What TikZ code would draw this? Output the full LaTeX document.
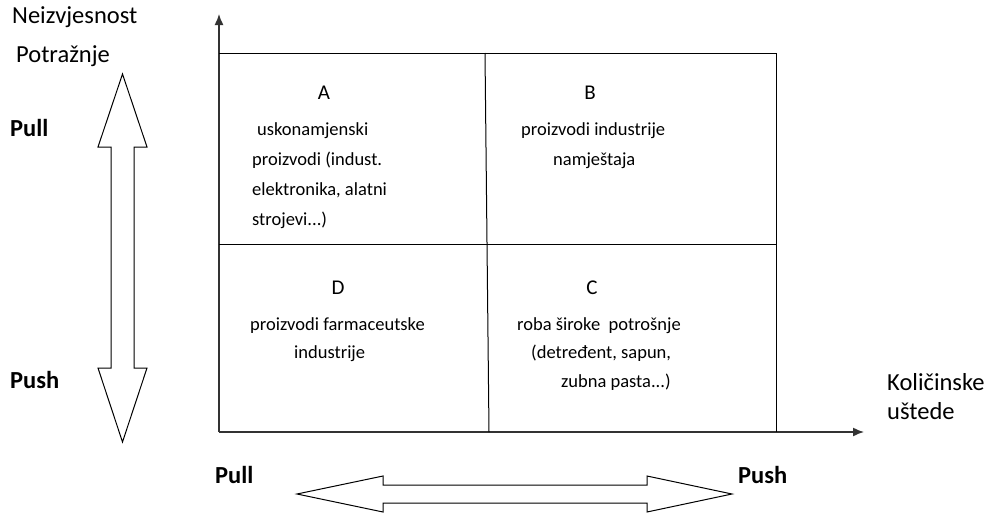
\documentclass[tikz,border=0pt]{standalone}
\usepackage{fontspec}
\setmainfont{Carlito}
\usetikzlibrary{arrows.meta}

\begin{document}
\begin{tikzpicture}[x=1pt, y=-1pt,
    lbl/.style={anchor=base west, inner sep=0pt, font=\fontsize{24.5}{28}\selectfont},
    cell/.style={anchor=base west, inner sep=0pt, font=\fontsize{18.5}{21}\selectfont},
    letter/.style={anchor=base, inner sep=0pt, font=\fontsize{21}{24}\selectfont},
    frame/.style={line width=1pt},
    axis/.style={line width=1.4pt, black!80, -{Latex[length=11pt,width=9pt]}},
    fat/.style={draw, line width=1pt, fill=white, line join=miter}]
    \useasboundingbox (0,0) rectangle (989,512);
    \clip (0,0) rectangle (989,512);

    % axes
    \coordinate (o) at (219,432);
    \coordinate (ytip) at (219,14);
    \coordinate (xtip) at (864,432);
    \draw[axis] (o) -- (ytip);
    \draw[axis] (o) -- (xtip);

    % quadrants
    \draw[frame] (219,53) -- (776,53) -- (776,432);
    \draw[frame] (219,244) -- (776,244);
    \draw[frame] (485,53) -- (489,432);

    % axis labels
    \node[lbl] (unc) at (12,23) {Neizvjesnost};
    \node[lbl] (dem) at (16,62) {Potražnje};
    \node[lbl] (qty) at (887,390) {Količinske};
    \node[lbl] (sav) at (887,419) {uštede};
    \node[lbl, font=\fontsize{24.5}{28}\selectfont\bfseries] (ypull) at (10,136) {Pull};
    \node[lbl, font=\fontsize{24.5}{28}\selectfont\bfseries] (ypush) at (10,388) {Push};
    \node[lbl, font=\fontsize{24.5}{28}\selectfont\bfseries] (xpull) at (215,483) {Pull};
    \node[lbl, font=\fontsize{24.5}{28}\selectfont\bfseries] (xpush) at (738,483) {Push};

    % double arrows
    \draw[fat] (122.5,74) -- (147,147) -- (134,147) -- (134,368) -- (147,368)
        -- (122.5,442) -- (98,368) -- (111,368) -- (111,147) -- (98,147) -- cycle;
    \draw[fat] (297,494) -- (383,476) -- (383,485) -- (647,485) -- (647,476)
        -- (732,494) -- (647,512) -- (647,503) -- (383,503) -- (383,512) -- cycle;

    % A
    \node[letter] (qa) at (324,99) {A};
    \node[cell] (a1) at (257,135) {uskonamjenski};
    \node[cell] (a2) at (252,165) {proizvodi (indust.};
    \node[cell] (a3) at (252,195) {elektronika, alatni};
    \node[cell] (a4) at (252,225) {strojevi...)};
    % B
    \node[letter] (qb) at (590,99) {B};
    \node[cell] (b1) at (521,135) {proizvodi industrije};
    \node[cell] (b2) at (553,165) {namještaja};
    % D
    \node[letter] (qd) at (338,294) {D};
    \node[cell] (d1) at (250,330) {proizvodi farmaceutske};
    \node[cell] (d2) at (294,358) {industrije};
    % C
    \node[letter] (qc) at (592,294) {C};
    \node[cell] (c1) at (517,330) {roba široke\ \ potrošnje};
    \node[cell] (c2) at (531,358) {(detređent, sapun,};
    \node[cell] (c3) at (561,387) {zubna pasta...)};
\end{tikzpicture}
\end{document}
